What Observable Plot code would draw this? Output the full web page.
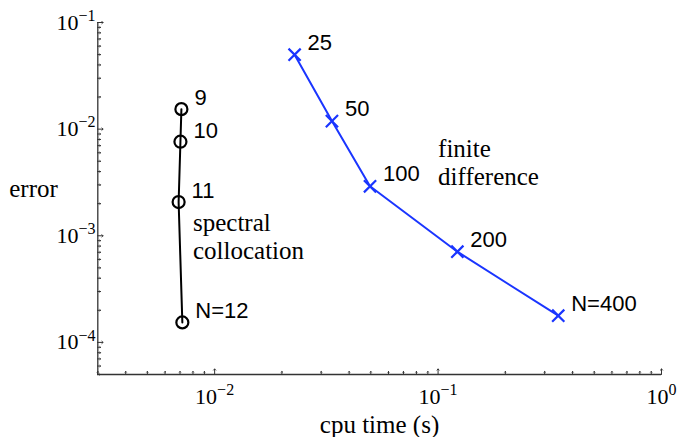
<!DOCTYPE html>
<html>
<head>
<meta charset="utf-8">
<script src="https://cdn.jsdelivr.net/npm/d3@7"></script>
<script src="https://cdn.jsdelivr.net/npm/@observablehq/plot@0.6"></script>
<style>
  html, body { margin: 0; padding: 0; background: #fff; }
  #chart svg { display: block; }
</style>
</head>
<body>
<div id="chart"></div>
<script>
// ---- data ----
const spectralN = [9, 10, 11, 12];
const spectralLabels = ["9", "10", "11", "N=12"];
const spectralTime = [0.00710, 0.00703, 0.00690, 0.00717];
const spectralError = [0.0154, 0.00763, 0.00207, 0.000154];

const fdN = [25, 50, 100, 200, 400];
const fdLabels = ["25", "50", "100", "200", "N=400"];
const fdTime = [0.0228, 0.0335, 0.0496, 0.122, 0.345];
const fdError = [0.0499, 0.0119, 0.00291, 0.000709, 0.000178];

const xMajorTicks = [0.01, 0.1, 1];
const yMajorTicks = [1e-4, 1e-3, 1e-2, 1e-1];
const xMinorTicks = [0.003,0.004,0.005,0.006,0.007,0.008,0.009,
                     0.02,0.03,0.04,0.05,0.06,0.07,0.08,0.09,
                     0.2,0.3,0.4,0.5,0.6,0.7,0.8,0.9];
const yMinorTicks = [5e-5,6e-5,7e-5,8e-5,9e-5,
                     2e-4,3e-4,4e-4,5e-4,6e-4,7e-4,8e-4,9e-4,
                     2e-3,3e-3,4e-3,5e-3,6e-3,7e-3,8e-3,9e-3,
                     2e-2,3e-2,4e-2,5e-2,6e-2,7e-2,8e-2,9e-2];

const annotations = [
  {text: "spectral\ncollocation", x: 0.0080, y: 1.0e-3},
  {text: "finite\ndifference", x: 0.100, y: 4.9e-3}
];

const xDomain = [0.003, 1];
const yDomain = [5e-5, 0.1];

// ---- build tables ----
const spectral = spectralN.map((n, i) => ({n, label: spectralLabels[i], t: spectralTime[i], e: spectralError[i]}));
const fd = fdN.map((n, i) => ({n, label: fdLabels[i], t: fdTime[i], e: fdError[i]}));

const serif = "'Liberation Serif', 'Times New Roman', serif";
const sans = "'Liberation Sans', Arial, Helvetica, sans-serif";
const axisColor = "#333";
const blue = "#1a35ff";

const supFormat = d => "10^" + Math.round(Math.log10(d));

const chart = Plot.plot({
  width: 678,
  height: 437,
  marginLeft: 97,
  marginRight: 17,
  marginTop: 22,
  marginBottom: 63,
  style: {fontFamily: serif, background: "#fff"},
  x: {type: "log", domain: xDomain, range: [97.3, 661]},
  y: {type: "log", domain: yDomain},
  marks: [
    // axis lines
    Plot.ruleY([yDomain[0]], {stroke: axisColor, strokeWidth: 1.3}),
    Plot.ruleX([xDomain[0]], {stroke: axisColor, strokeWidth: 1.3}),
    // inward ticks
    Plot.vectorX(xMinorTicks, {x: d => d, frameAnchor: "bottom", rotate: 0, anchor: "start", length: 3, stroke: axisColor, strokeWidth: 1}),
    Plot.vectorX(xMajorTicks, {x: d => d, frameAnchor: "bottom", rotate: 0, anchor: "start", length: 5.5, stroke: axisColor, strokeWidth: 1}),
    Plot.vectorY(yMinorTicks, {y: d => d, frameAnchor: "left", rotate: 90, anchor: "start", length: 3, stroke: axisColor, strokeWidth: 1}),
    Plot.vectorY(yMajorTicks, {y: d => d, frameAnchor: "left", rotate: 90, anchor: "start", length: 5.5, stroke: axisColor, strokeWidth: 1}),
    // tick labels
    Plot.axisX({ticks: xMajorTicks, tickFormat: supFormat, tickSize: 0, tickPadding: 14, fontSize: 22, fontFamily: serif, fill: "#000", label: null}),
    Plot.axisY({ticks: yMajorTicks, tickFormat: supFormat, tickSize: 0, tickPadding: 2, fontSize: 22, fontFamily: serif, fill: "#000", label: null}),
    // axis titles
    Plot.text(["cpu time (s)"], {frameAnchor: "bottom", dy: 58, fontSize: 25, fontFamily: serif, fill: "#000"}),
    Plot.text(["error"], {frameAnchor: "left", textAnchor: "middle", dx: -64, dy: -10, fontSize: 25, fontFamily: serif, fill: "#000"}),
    // series
    Plot.line(spectral, {x: "t", y: "e", stroke: "#000", strokeWidth: 2}),
    Plot.dot(spectral, {x: "t", y: "e", r: 6, stroke: "#000", strokeWidth: 2.2, fill: "none"}),
    Plot.line(fd, {x: "t", y: "e", stroke: blue, strokeWidth: 2}),
    Plot.dot(fd, {x: "t", y: "e", symbol: "times", r: 5.6, stroke: blue, strokeWidth: 2.2}),
    // point labels
    Plot.text(spectral, {x: "t", y: "e", text: "label", dx: 13, dy: -11, textAnchor: "start", fontSize: 22, fontFamily: sans, fill: "#000"}),
    Plot.text(fd, {x: "t", y: "e", text: "label", dx: 13, dy: -12, textAnchor: "start", fontSize: 22, fontFamily: sans, fill: "#000"}),
    // annotations
    Plot.text(annotations, {x: "x", y: "y", text: "text", textAnchor: "start", lineAnchor: "middle", lineHeight: 1.12, fontSize: 25, fontFamily: serif, fill: "#000"})
  ]
});

// superscript exponents on tick labels
d3.select(chart).selectAll("g[aria-label$='tick label'] text").each(function () {
  const el = d3.select(this);
  const s = el.text();
  const m = s.match(/^10\^(-?\d+)$/);
  if (!m) return;
  el.text(null);
  el.append("tspan").text("10");
  const exp = m[1].replace("-", "\u2212");
  el.append("tspan").attr("dy", "-0.55em").attr("font-size", 16).text(exp);
});

document.getElementById("chart").appendChild(chart);
</script>
</body>
</html>
